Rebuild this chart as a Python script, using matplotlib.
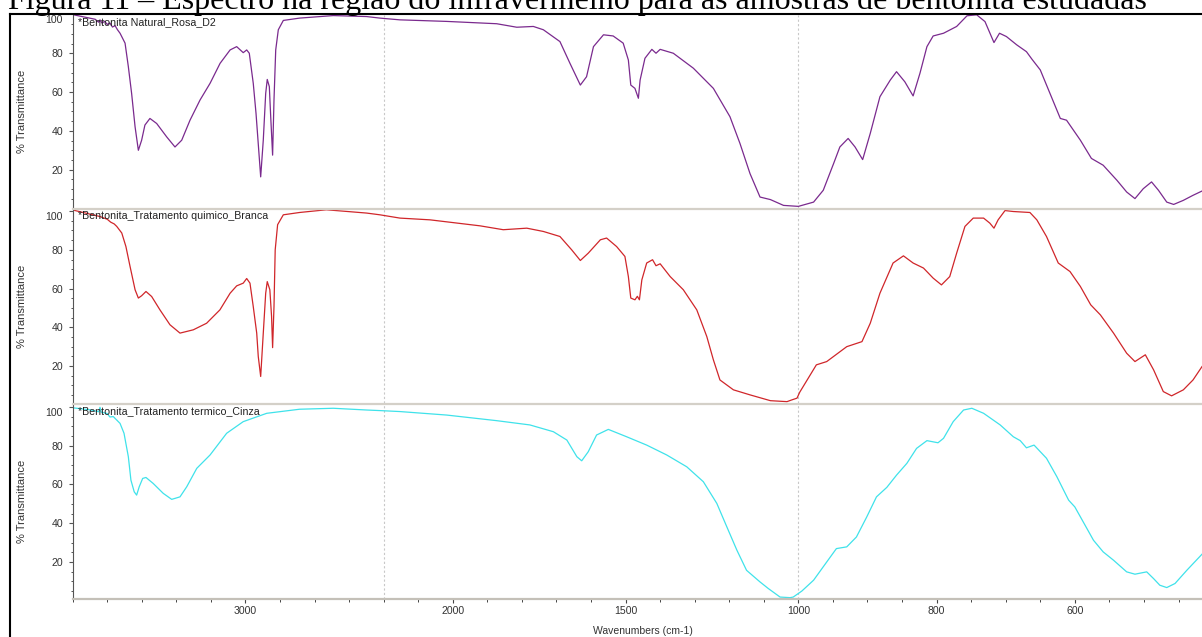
import numpy as np
import matplotlib
matplotlib.use("Agg")
import matplotlib.pyplot as plt
from matplotlib.ticker import FixedLocator, MultipleLocator, FuncFormatter, NullFormatter
from matplotlib.lines import Line2D

W, H, DPI = 1202, 637, 100

#%% espectros FTIR (numero de onda em cm-1, % transmitancia)
wn_natural = [3995, 3870, 3850, 3842, 3830, 3815, 3800, 3785, 3770, 3755, 3740, 3726, 3697, 3678,
              3659, 3639, 3620, 3601, 3582, 3553, 3514, 3456,
              3408, 3369, 3321, 3263, 3205, 3147, 3089, 3051, 3013, 2993, 2978, 2955, 2939, 2926,
              2912, 2897, 2883, 2874, 2862, 2854, 2843, 2835, 2825, 2810, 2781, 2687, 2492, 2299,
              2222, 2153, 2018, 1873, 1815, 1767, 1738, 1690, 1661, 1631, 1613, 1593, 1564, 1536,
              1507, 1492, 1485, 1473, 1463, 1458, 1444, 1424, 1412, 1400, 1362, 1304, 1246, 1198,
              1169, 1140, 1111, 1081, 1043, 1000, 978, 964, 949, 940, 928, 918, 907, 896, 882, 867,
              858, 846, 834, 824, 814, 805, 790, 771, 756, 742, 730, 717, 709, 699, 684, 670, 662,
              650, 636, 621, 612, 592, 576, 559, 539, 525, 513, 501, 489, 479, 467, 457, 443, 429, 416]
t_natural = [99.8, 97.5, 96.0, 97.2, 95.5, 96.5, 94.8, 95.6, 93.5, 94.2, 92.0, 90.3, 85.2, 73.1,
             59.3, 42.1, 30.0, 35.2, 43.0, 46.4, 43.8, 36.9,
             31.7, 35.2, 45.5, 55.9, 64.5, 74.8, 81.7, 83.4, 80.3, 81.7, 80.0, 64.5, 49.0, 33.5,
             16.3, 35.2, 59.3, 66.5, 62.8, 47.3, 27.5, 55.9, 81.7, 92.1, 96.9, 98.1, 99.4, 98.9,
             98.1, 97.2, 96.4, 95.2, 93.4, 93.8, 92.1, 86.0, 74.8, 63.6, 67.9, 83.4, 89.5, 88.9,
             85.2, 76.5, 63.6, 61.9, 56.8, 66.2, 77.4, 82.0, 80.0, 82.0, 80.0, 72.3, 61.9, 47.3,
             33.5, 18.0, 5.9, 4.6, 1.6, 1.1, 3.3, 9.4, 23.2, 31.7, 36.1, 31.7, 25.2, 38.7, 57.6, 66.2,
             70.5, 65.3, 58.0, 69.8, 83.4, 88.9, 90.3, 93.8, 99.3, 99.8, 96.3, 85.5, 90.3, 88.6, 84.3, 80.8, 76.9,
             71.4, 59.3, 46.4, 45.5, 35.2, 25.8, 22.3, 14.5, 8.5, 5.1, 10.2, 13.7, 9.4, 3.3, 2.1, 4.2, 6.8, 9.0]

wn_quimico = [3995, 3842, 3800, 3780, 3760, 3745, 3716, 3692, 3668, 3639, 3620, 3601, 3576, 3543,
              3495, 3437, 3379,
              3302, 3225, 3148, 3089, 3051, 3013, 2993, 2974, 2955, 2935, 2926, 2912, 2897, 2883,
              2874, 2859, 2849, 2843, 2835, 2828, 2814, 2781, 2687, 2532, 2299, 2222, 2153, 2066,
              1921, 1854, 1786, 1738, 1690, 1656, 1631, 1608, 1573, 1555, 1526, 1502, 1492, 1485,
              1473, 1466, 1460, 1453, 1439, 1422, 1412, 1400, 1371, 1333, 1294, 1265, 1246, 1227,
              1188, 1140, 1081, 1033, 1019, 1004, 998, 974, 959, 930, 908, 896, 882, 863, 848, 834,
              819, 805, 793, 781, 771, 759, 747, 732, 723, 717, 711, 701, 689, 665, 655, 641, 624,
              607, 592, 577, 563, 544, 525, 513, 498, 486, 472, 460, 443, 429, 416]
t_quimico = [100.5, 97.2, 95.8, 94.3, 93.4, 92.1, 88.7, 81.7, 71.4, 59.4, 55.1, 56.3, 58.5, 55.9,
             49.0, 41.3, 37.0,
             38.7, 42.1, 49.0, 57.6, 61.4, 62.8, 65.2, 62.8, 50.7, 37.0, 24.9, 14.6, 37.0, 57.6,
             63.6, 59.4, 45.6, 29.5, 50.7, 80.0, 93.0, 98.1, 99.3, 100.7, 99.0, 98.1, 96.4, 95.5,
             92.4, 90.4, 91.2, 89.5, 86.9, 80.0, 74.5, 78.3, 85.2, 86.1, 81.7, 76.6, 66.2, 55.1,
             54.2, 56.0, 54.2, 64.5, 73.2, 74.9, 71.8, 72.8, 66.2, 59.4, 49.0, 35.2, 23.2, 12.8,
             7.7, 5.1, 2.1, 1.6, 2.5, 3.4, 6.5, 20.6, 22.3, 30.0, 32.6, 42.1, 57.6, 73.2, 76.9, 73.2,
             70.6, 65.4, 61.9, 66.2, 78.3, 92.1, 96.4, 96.4, 93.8, 91.2, 95.5, 100.3, 99.8, 99.3, 95.5, 86.9, 73.2,
             68.8, 61.1, 51.6, 46.4, 37.0, 26.6, 22.3, 25.8, 18.0, 6.8, 4.6, 7.7, 12.8, 19.7]

wn_termico = [3995, 3900, 3850, 3842, 3835, 3800, 3785, 3765, 3726, 3703, 3678, 3663, 3644, 3630,
              3615, 3595,
              3576, 3534, 3476, 3427, 3379, 3340, 3282, 3205, 3109, 3013, 2877, 2687, 2492, 2299,
              2222, 2153, 2018, 1873, 1777, 1709, 1670, 1641, 1627, 1608, 1584, 1550, 1497, 1439,
              1381, 1323, 1275, 1236, 1207, 1178, 1150, 1111, 1087, 1053, 1024, 1015, 995, 978, 959,
              945, 930, 916, 901, 887, 872, 858, 843, 829, 814, 798, 790, 776, 761, 749, 732, 708,
              689, 679, 670, 659, 641, 626, 609, 600, 573, 559, 544, 525, 513, 496, 486, 477, 467,
              455, 438, 416]
t_termico = [99.5, 98.5, 97.5, 99.8, 97.3, 96.6, 94.8, 95.0, 91.5, 86.4, 74.3, 62.2, 56.2, 54.5,
             58.8, 63.1,
             63.6, 60.5, 55.4, 52.3, 53.6, 58.8, 68.3, 75.2, 86.4, 92.4, 96.7, 98.8, 99.3, 98.4,
             98.1, 97.6, 95.8, 92.9, 90.7, 87.2, 82.9, 74.3, 72.2, 76.9, 85.5, 88.4, 84.6, 80.3,
             75.2, 69.1, 61.4, 50.2, 38.1, 26.1, 15.7, 9.7, 6.3, 1.9, 1.6, 1.9, 5.0, 10.6, 20.0,
             26.9, 27.8, 32.9, 43.3, 53.6, 58.5, 64.8, 70.9, 78.6, 82.6, 81.5, 83.8, 92.4, 98.4, 99.3, 96.7, 90.7,
             84.6, 82.6, 78.9, 80.3, 73.5, 64.0, 51.9, 48.4, 31.2, 25.2, 20.9, 14.9, 13.7, 14.9, 11.4, 8.0, 6.8,
             8.9, 15.7, 24.0]

amostras = ["*Bentonita Natural_Rosa_D2",
            "*Bentonita_Tratamento quimico_Branca",
            "*Bentonita_Tratamento termico_Cinza"]
xticks_rotulo = [3000, 2000, 1500, 1000, 800, 600]
titulo = "Figura 11 \u2013 Espectro na regi\u00e3o do infravermelho para as amostras de bentonita estudadas"

#%% escala do eixo x em tres trechos (4000-2200, 2200-1000, 1000-400)
knots_w = [0, 400, 1000, 2200, 4000, 6000]
knots_h = [-1600, 0, 2400, 4800, 6600, 8600]


def fwd(w):
    return np.interp(w, knots_w, knots_h)


def inv(h):
    return np.interp(h, knots_h, knots_w)


minor_x = list(range(4000, 2200, -200)) + list(range(2200, 1000, -100)) + list(range(1000, 399, -50))

#%%
def fig_box(top, bottom, left=72.7):
    # caixa em pixels -> fracao da figura
    return [left / W, 1 - bottom / H, 1 - left / W, (bottom - top) / H]


plt.rcParams['font.family'] = ['Liberation Sans', 'DejaVu Sans']
fig = plt.figure(figsize=(W / DPI, H / DPI), dpi=DPI)
fig.patch.set_facecolor('white')

series = [(wn_natural, t_natural), (wn_quimico, t_quimico), (wn_termico, t_termico)]
cores = ['#7a2a8e', '#d0262a', '#3fe2ea']
caixas = [(15, 208), (209, 403), (404, 599)]
ylims = [(0.26, 99.7), (0.9, 101.1), (0.9, 101.5)]
sep = '#d4d0c8'

for i, ((wn, tr), cor, (top, bot), ylim, nome) in enumerate(zip(series, cores, caixas, ylims, amostras)):
    ax = fig.add_axes(fig_box(top, bot))
    ax.set_xscale('function', functions=(fwd, inv))
    ax.plot(wn, tr, color=cor, lw=0.9)
    ax.set_xlim(4000, 416)
    ax.set_ylim(*ylim)

    # linhas tracejadas nas quebras de escala
    for q in (2200, 1000):
        ax.axvline(q, color='#c8c8c8', lw=0.8, ls=(0, (2, 2)), zorder=0)

    ax.yaxis.set_major_locator(FixedLocator([20, 40, 60, 80, 100]))
    ax.yaxis.set_minor_locator(MultipleLocator(5))
    ax.yaxis.set_major_formatter(FuncFormatter(lambda v, p: '' if v >= 100 else f'{v:.0f}'))
    ax.tick_params(axis='y', which='major', direction='out', length=3, width=0.8,
                   color='#555555', labelsize=7.6, labelcolor='#333333', pad=4)
    ax.tick_params(axis='y', which='minor', direction='out', length=1.5, width=0.7, color='#555555')
    # rotulo 100 deslocado para dentro do painel
    ax.annotate('100', xy=(0, 100), xycoords=('axes fraction', 'data'), xytext=(-10, -6),
                textcoords='offset pixels', ha='right', va='center', fontsize=7.6, color='#333333')

    ax.spines['right'].set_visible(False)
    ax.spines['left'].set_color('#555555')
    ax.spines['left'].set_linewidth(0.8)
    if i == 0:
        ax.spines['top'].set_visible(False)
    else:
        ax.spines['top'].set_color(sep)
        ax.spines['top'].set_linewidth(1.6)

    ax.xaxis.set_major_locator(FixedLocator(xticks_rotulo))
    ax.xaxis.set_minor_locator(FixedLocator(minor_x))
    ax.xaxis.set_minor_formatter(NullFormatter())
    if i < 2:
        ax.spines['bottom'].set_visible(False)
        ax.tick_params(axis='x', which='both', bottom=False, labelbottom=False)
    else:
        ax.spines['bottom'].set_color('#c4c0b8')
        ax.spines['bottom'].set_linewidth(1.6)
        ax.xaxis.set_major_formatter(FuncFormatter(lambda v, p: f'{v:.0f}'))
        ax.tick_params(axis='x', which='major', direction='out', length=3, width=0.8,
                       color='#444444', labelsize=7.6, labelcolor='#333333', pad=2)
        ax.tick_params(axis='x', which='minor', direction='out', length=2, width=0.7, color='#444444')

    fig.text(78 / W, 1 - (top + 7) / H, nome, fontsize=7.7, color='#222222', va='center', ha='left')
    fig.text(22 / W, 1 - (top + bot) / 2 / H, '% Transmittance', rotation=90, fontsize=8,
             color='#333333', va='center', ha='center')

fig.text(643 / W, 1 - 630.7 / H, 'Wavenumbers (cm-1)', fontsize=7.5, color='#333333',
         ha='center', va='center')

# moldura preta e titulo da figura (cortado na borda superior)
fig.add_artist(Line2D([9.5 / W, 9.5 / W], [0, 1 - 13.5 / H], transform=fig.transFigure, color='black', lw=1.5))
fig.add_artist(Line2D([9.5 / W, 1], [1 - 13.5 / H, 1 - 13.5 / H], transform=fig.transFigure, color='black', lw=1.5))
fig.text(8 / W, 1 - 9.5 / H, titulo, family=['Liberation Serif', 'DejaVu Serif'], fontsize=23,
         color='black', ha='left', va='baseline')

fig.savefig('out.png', dpi=DPI)
